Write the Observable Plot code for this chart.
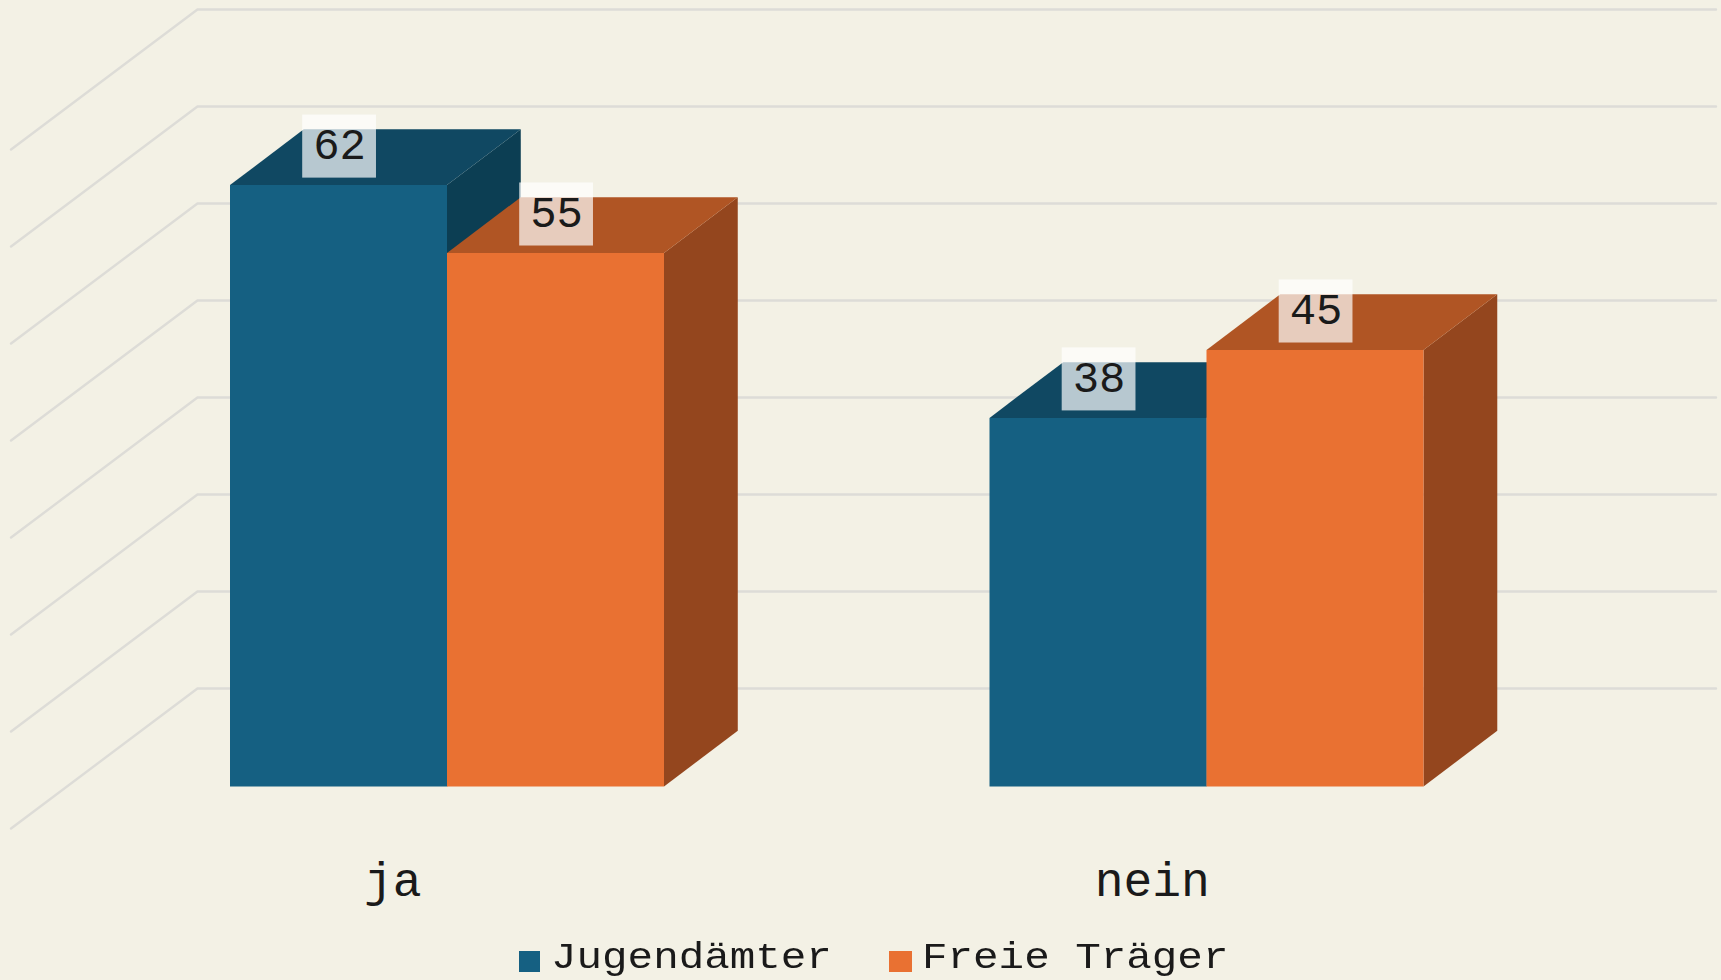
<!DOCTYPE html>
<html lang="de">
<head>
<meta charset="utf-8">
<script src="https://cdn.jsdelivr.net/npm/d3@7"></script>
<script src="https://cdn.jsdelivr.net/npm/@observablehq/plot@0.6"></script>
<style>
html,body{margin:0;padding:0;background:#f3f1e5;width:1721px;height:980px;overflow:hidden}
#wrap{filter:blur(.45px);width:1721px;height:980px}
#wrap svg{display:block;background:#f3f1e5}
#legend{position:relative;width:1721px;height:40px;font-family:"Liberation Mono",monospace;font-size:37px;line-height:40px;color:#1a1a1a}
#legend i{position:absolute;top:11px;height:21px;display:block}
#legend span{position:absolute;top:-2px;white-space:pre;transform:scaleX(1.15);transform-origin:0 50%}
</style>
</head>
<body>
<div id="wrap"><div id="chart"></div><div id="legend"></div></div>
<script>
const categories = ["ja", "nein"];
const seriesNames = ["Jugendämter", "Freie Träger"];
const jugendaemter = [62, 38];
const freieTraeger = [55, 45];
const gridValues = [10, 20, 30, 40, 50, 60, 70, 80];

const frontColors = ["#156082", "#e97132"];
const topColors = ["#104862", "#b05524"];
const sideColors = ["#0c3e53", "#94461e"];

// Chart geometry, in x units of one bar width and y units of the value axis
const groupStep = 3.5, depthX = 0.34, depthY = 5.75;
const values = [jugendaemter, freieTraeger];

const bars = seriesNames.flatMap((s, si) =>
  categories.map((c, ci) => ({series: si, category: c, x0: ci * groupStep + si, value: values[si][ci]})));

const poly = (id, fill, pts) => pts.map(([x, y]) => ({id, fill, x, y}));
const faces = bars.flatMap((b, i) => {
  const {x0, value: v, series: s} = b, x1 = x0 + 1;
  return [
    ...poly(i + "side", sideColors[s], [[x1, 0], [x1 + depthX, depthY], [x1 + depthX, v + depthY], [x1, v]]),
    ...poly(i + "top", topColors[s], [[x0, v], [x1, v], [x1 + depthX, v + depthY], [x0 + depthX, v + depthY]]),
    ...poly(i + "front", frontColors[s], [[x0, 0], [x1, 0], [x1, v], [x0, v]])
  ];
});

const gridShift = 0.1, gridLeft = -1.009, gridBack = -0.15, gridRight = 6.848, gridDrop = 14.43;
const grid = gridValues.flatMap(g => [
  {g, x: gridLeft, y: g + gridShift - gridDrop},
  {g, x: gridBack, y: g + gridShift},
  {g, x: gridRight, y: g + gridShift}
]);

const labelFont = {fontFamily: "Liberation Mono", fill: "#1a1a1a"};
const boxGap = 0.72, boxH = 6.5, boxHalf = 0.17;

const chart = Plot.plot({
  width: 1721,
  height: 940,
  margin: 0,
  x: {domain: [-229.5 / 217, (1721 - 229.5) / 217], axis: null},
  y: {domain: [-(940 - 786) / 9.7, 786 / 9.7], axis: null},
  color: {type: "identity"},
  style: {background: "#f3f1e5"},
  marks: [
    Plot.line(grid, {x: "x", y: "y", z: "g", stroke: "#dddcd7", strokeWidth: 2.4, curve: "linear"}),
    Plot.line(faces, {x: "x", y: "y", z: "id", fill: "fill", stroke: "none", curve: "linear"}),
    Plot.rect(bars, {
      x1: d => d.x0 + 0.5 - boxHalf + 0.005,
      x2: d => d.x0 + 0.5 + boxHalf + 0.005,
      y1: d => d.value + boxGap,
      y2: d => d.value + boxGap + boxH,
      fill: "#ffffff",
      fillOpacity: 0.7
    }),
    Plot.text(bars, {
      x: d => d.x0 + 0.5 + 0.005,
      y: d => d.value + boxGap + boxH / 2 + 0.15,
      text: d => String(d.value),
      fontSize: 44,
      lineAnchor: "middle",
      textAnchor: "middle",
      ...labelFont
    }),
    Plot.text(categories, {
      x: (d, i) => i * groupStep + 1 - 0.25,
      y: -11.3,
      text: d => d,
      fontSize: 48,
      lineAnchor: "bottom",
      textAnchor: "middle",
      ...labelFont
    })
  ]
});
document.getElementById("chart").append(chart);

const legend = document.getElementById("legend");
const swatchX = [519, 889], swatchW = [21, 23], labelX = [551, 922];
seriesNames.forEach((name, i) => {
  const sq = document.createElement("i");
  sq.style.cssText = `left:${swatchX[i]}px;width:${swatchW[i]}px;background:${frontColors[i]}`;
  const t = document.createElement("span");
  t.style.left = labelX[i] + "px";
  t.textContent = name;
  legend.append(sq, t);
});
</script>
</body>
</html>
